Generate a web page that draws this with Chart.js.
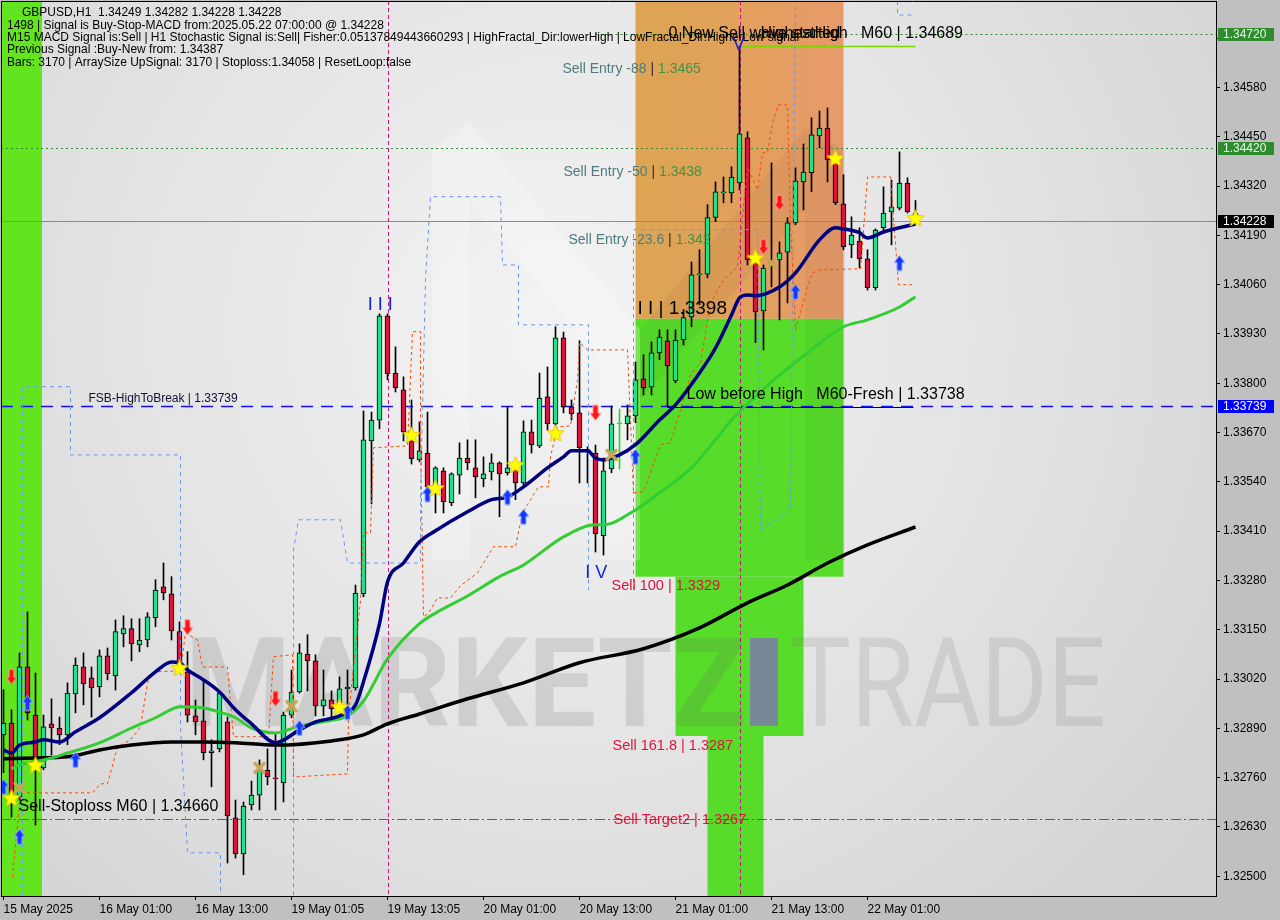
<!DOCTYPE html>
<html>
<head>
<meta charset="utf-8">
<title>GBPUSD H1</title>
<script src="https://cdn.jsdelivr.net/npm/chart.js@4.4.1/dist/chart.umd.min.js"></script>
<style>
    html, body { margin: 0; padding: 0; background: #c0c0c0; }
    #wrap { width: 1280px; height: 920px; }
    canvas { display: block; }
</style>
</head>
<body>
<div id="wrap"><canvas id="grafico" width="1280" height="920"></canvas></div>
<script>
// H1 bars, index 0 = 15 May 13:00
const opens = [
    1.32873,1.32904,1.32709,1.33052,1.32925,1.32786,1.32902,1.32891,1.32873,1.32981,
    1.33052,1.33023,1.32999,1.33081,1.33028,1.33139,1.33153,1.33110,1.33123,1.33182,
    1.33263,1.33245,1.33145,1.33039,1.32923,1.32910,1.32826,1.32836,1.32907,1.32654,
    1.32559,1.32688,1.32714,1.32780,1.32759,1.32746,1.32925,1.32986,1.33086,1.33068,
    1.32949,1.32965,1.32957,1.32994,1.32997,1.33245,1.33648,1.33703,1.33978,1.33827,
    1.33783,1.33648,1.33598,1.33616,1.33532,1.33569,1.33485,1.33558,1.33603,1.33577,
    1.33548,1.33566,1.33590,1.33564,1.33572,1.33537,1.33672,1.33635,1.33764,1.33693,
    1.33920,1.33738,1.33722,1.33625,1.33616,1.33398,1.33574,1.33693,1.33693,1.33714,
    1.33812,1.33790,1.33880,1.33912,1.33806,1.33914,1.33975,1.34086,1.34088,1.34237,
    1.34302,1.34302,1.34328,1.34447,1.34117,1.33991,1.34120,1.34125,1.34146,1.34223,
    1.34331,1.34355,1.34452,1.34473,1.34384,1.34273,1.34165,1.34175,1.34128,1.34052,
    1.34210,1.34252,1.34262,1.34328,1.34249
];
const highs = [
    1.32992,1.32939,1.33089,1.33197,1.33036,1.32925,1.32968,1.32920,1.33010,1.33076,
    1.33089,1.33052,1.33097,1.33102,1.33176,1.33187,1.33179,1.33179,1.33195,1.33282,
    1.33326,1.33290,1.33171,1.33092,1.32965,1.33018,1.32860,1.32986,1.32920,1.32701,
    1.32696,1.32751,1.32807,1.32836,1.32878,1.32933,1.33044,1.33113,1.33137,1.33084,
    1.33044,1.32989,1.33026,1.33044,1.33268,1.33727,1.33724,1.33983,1.33983,1.33896,
    1.33817,1.33756,1.33698,1.33724,1.33580,1.33577,1.33564,1.33643,1.33651,1.33651,
    1.33606,1.33614,1.33593,1.33738,1.33598,1.33701,1.33703,1.33827,1.33843,1.33949,
    1.33935,1.33756,1.33912,1.33632,1.33637,1.33603,1.33740,1.33732,1.33743,1.33856,
    1.33875,1.33909,1.33941,1.33941,1.33941,1.33994,1.34120,1.34152,1.34271,1.34331,
    1.34344,1.34371,1.34689,1.34463,1.34144,1.34112,1.34381,1.34173,1.34237,1.34368,
    1.34431,1.34500,1.34518,1.34526,1.34397,1.34350,1.34239,1.34210,1.34152,1.34207,
    1.34318,1.34336,1.34410,1.34342,1.34282
];
const lows = [
    1.32773,1.32656,1.32701,1.32912,1.32635,1.32781,1.32820,1.32847,1.32847,1.32931,
    1.32952,1.32920,1.32973,1.33018,1.32991,1.33105,1.33068,1.33092,1.33105,1.33158,
    1.33229,1.33123,1.33044,1.32907,1.32873,1.32807,1.32736,1.32828,1.32535,1.32548,
    1.32504,1.32675,1.32675,1.32741,1.32675,1.32696,1.32918,1.32983,1.32989,1.32923,
    1.32923,1.32918,1.32947,1.32947,1.32991,1.33237,1.33482,1.33680,1.33809,1.33777,
    1.33648,1.33587,1.33593,1.33488,1.33458,1.33458,1.33477,1.33508,1.33572,1.33498,
    1.33527,1.33545,1.33448,1.33558,1.33493,1.33532,1.33616,1.33630,1.33677,1.33688,
    1.33722,1.33703,1.33537,1.33537,1.33355,1.33347,1.33564,1.33574,1.33651,1.33696,
    1.33769,1.33769,1.33862,1.33738,1.33801,1.33901,1.33949,1.34007,1.34078,1.34226,
    1.34276,1.34276,1.34310,1.34112,1.33907,1.33888,1.34054,1.33967,1.34012,1.34218,
    1.34257,1.34305,1.34421,1.34331,1.34271,1.34152,1.34131,1.34104,1.34046,1.34046,
    1.34199,1.34165,1.34257,1.34249,1.34228
];
const closes = [
    1.32904,1.32693,1.33052,1.32931,1.32788,1.32894,1.32891,1.32873,1.32983,1.33057,
    1.33007,1.32997,1.33081,1.33034,1.33145,1.33153,1.33113,1.33123,1.33184,1.33255,
    1.33247,1.33147,1.33050,1.32925,1.32907,1.32826,1.32831,1.32983,1.32659,1.32559,
    1.32685,1.32714,1.32780,1.32762,1.32757,1.32925,1.32986,1.33089,1.33068,1.32949,
    1.32965,1.32941,1.32994,1.32999,1.33247,1.33651,1.33703,1.33978,1.33825,1.33788,
    1.33672,1.33601,1.33622,1.33527,1.33577,1.33488,1.33561,1.33603,1.33590,1.33553,
    1.33561,1.33590,1.33561,1.33577,1.33537,1.33672,1.33638,1.33761,1.33693,1.33920,
    1.33738,1.33719,1.33630,1.33622,1.33403,1.33569,1.33693,1.33693,1.33714,1.33809,
    1.33788,1.33880,1.33922,1.33846,1.33914,1.33973,1.34086,1.34088,1.34237,1.34305,
    1.34305,1.34344,1.34458,1.34125,1.33988,1.34104,1.34117,1.34144,1.34223,1.34334,
    1.34357,1.34455,1.34473,1.34389,1.34276,1.34160,1.34191,1.34128,1.34052,1.34204,
    1.34249,1.34265,1.34328,1.34252,1.34228
];

const timeTickIdx = [0, 12, 24, 36, 48, 60, 72, 84, 96, 108];
const timeLabels = ['15 May 2025', '16 May 01:00', '16 May 13:00', '19 May 01:05', '19 May 13:05',
                    '20 May 01:00', '20 May 13:00', '21 May 01:00', '21 May 13:00', '22 May 01:00'];
const priceTicks = [1.32500, 1.32630, 1.32760, 1.32890, 1.33020, 1.33150, 1.33280, 1.33410, 1.33540,
                    1.33670, 1.33800, 1.33930, 1.34060, 1.34190, 1.34320, 1.34450, 1.34580, 1.34710];

// moving averages [bar, price]
const maFast = [[0,1.32833],[1,1.32825],[2,1.32846],[4,1.32854],[5,1.32860],[7,1.32854],[9,1.32881],[12,1.32918],
    [16,1.32984],[19,1.33039],[21,1.33065],[22,1.33063],[23,1.33044],[25,1.33018],[27,1.32986],[29,1.32939],
    [31,1.32902],[34,1.32852],[37,1.32886],[39,1.32907],[42,1.32923],[44,1.32952],[45,1.33013],[47,1.33166],
    [48,1.33276],[50,1.33326],[52,1.33382],[54,1.33411],[58,1.33461],[61,1.33493],[63,1.33500],[65,1.33527],
    [68,1.33577],[70,1.33606],[71,1.33622],[73,1.33622],[74,1.33603],[75,1.33598],[77,1.33611],[79,1.33638],
    [82,1.33703],[84,1.33743],[87,1.33827],[89,1.33893],[91,1.33980],[92,1.34025],[93,1.34033],[94,1.34031],
    [97,1.34054],[99,1.34091],[102,1.34178],[104,1.34210],[105,1.34207],[107,1.34197],[108,1.34183],
    [110,1.34199],[114,1.34220]];
const maMid = [[1,1.32783],[2,1.32794],[4,1.32802],[6,1.32812],[8,1.32825],[12,1.32852],[16,1.32891],[19,1.32918],
    [21,1.32940],[22,1.32947],[25,1.32944],[27,1.32933],[29,1.32918],[31,1.32891],[34,1.32878],[37,1.32896],
    [41,1.32911],[43,1.32923],[45,1.32962],[48,1.33073],[52,1.33166],[54,1.33194],[58,1.33239],[62,1.33290],
    [65,1.33321],[70,1.33395],[74,1.33427],[75,1.33427],[79,1.33466],[82,1.33511],[86,1.33577],[89,1.33651],
    [91,1.33703],[96,1.33804],[100,1.33872],[105,1.33949],[108,1.33967],[112,1.34001],[114,1.34028]];
const maSlow = [[0,1.32810],[4,1.32812],[8,1.32815],[12,1.32833],[16,1.32846],[21,1.32854],[25,1.32854],[29,1.32852],
    [34,1.32846],[41,1.32857],[45,1.32873],[48,1.32902],[52,1.32928],[58,1.32968],[65,1.33010],[72,1.33063],
    [80,1.33100],[87,1.33155],[93,1.33221],[98,1.33268],[103,1.33326],[108,1.33374],[114,1.33421]];

// trailing step lines [bar, price]
const trailRed = [[1.125,1.32498],[1.5,1.32583],[2.125,1.32715],[2.375,1.32720],[11.125,1.32720],[12.125,1.32744],
    [13,1.32744],[14.25,1.32841],[15.875,1.32860],[17.125,1.32894],[18,1.33010],[18.75,1.33039],[22.125,1.33042],
    [22.75,1.33142],[24.25,1.33123],[24.875,1.33052],[28,1.33052],[28.75,1.32868],[33.125,1.32868],[33.75,1.33079],
    [36.125,1.33084],[36.25,1.32762],[43,1.32770],[43.125,1.32923],[44.625,1.33226],[45,1.33406],[45.875,1.33406],
    [46.25,1.33630],[50.5,1.33635],[51.125,1.33936],[52.125,1.33936],[52.125,1.33648],[52.5,1.33184],[53.125,1.33194],
    [54.25,1.33234],[55.875,1.33234],[57.125,1.33266],[59.25,1.33300],[61.25,1.33369],[64,1.33369],[64.875,1.33458],
    [66.875,1.33527],[68.125,1.33527],[68.375,1.33606],[69.25,1.33685],[70.875,1.33688],[71.75,1.33809],[72,1.33907],
    [73,1.33888],[78,1.33888],[78.75,1.33511],[80,1.33514],[82.125,1.33638],[83.375,1.33643],[84.625,1.33730],
    [85.875,1.33822],[87.125,1.33854],[88.375,1.34012],[90,1.34073],[91.75,1.34107],[93,1.34371],[94.25,1.34310],
    [94.875,1.34408],[95.5,1.34408],[96.125,1.34487],[96.875,1.34534],[98,1.34534],[98.375,1.34223],[99,1.33941],
    [99.375,1.33967],[100.5,1.34054],[101.125,1.34091],[102.125,1.34099],[107.125,1.34102],[108,1.34344],
    [110.875,1.34344],[111.875,1.34060],[113.75,1.34060]];
const trailBlue = [
    [[2.375,1.3245],[2.375,1.33791],[8.375,1.33791],[8.375,1.33611],[22.125,1.33611],[22.125,1.32894],[23,1.32562],
     [27.125,1.32562],[27.125,1.3245]],
    [[36.25,1.3245],[36.25,1.33361],[36.875,1.33440],[42.125,1.33440],[43,1.33326],[52.125,1.33326],[52.125,1.33503],
     [52.75,1.34073],[53.375,1.34292],[62.125,1.34292],[62.375,1.34112],[64.375,1.34112],[64.375,1.33954],
     [73.125,1.33954],[73.125,1.33255]],
    [[78.75,1.33255],[78.75,1.34205],[94.25,1.34205],[94.625,1.33413],[98.375,1.33466],[99,1.34808]],
    [[111.75,1.34808],[111.75,1.34771],[114,1.34771]]
];

// signal markers [bar, price]
const starMarks = [[1,1.32707],[4,1.32794],[22,1.33050],[42,1.32947],[51,1.33664],[54,1.33524],[64,1.33585],
    [69,1.33669],[94,1.34131],[104,1.34394],[114,1.34236]];
const crossMarks = [[2,1.32733],[32,1.32786],[36,1.32949],[76,1.33611],[96,1.34117]];
const buyArrows = [[0,1.32736],[2,1.32604],[3,1.32957],[9,1.32807],[37,1.32891],[43,1.32933],[53,1.33508],
    [63,1.33500],[65,1.33448],[79,1.33606],[99,1.34041],[112,1.34117]];
const sellArrows = [[1,1.33026],[23,1.33157],[34,1.32968],[74,1.33722],[95,1.34160],[97,1.34276]];

// zones: first bar, last bar, upper price, lower price
const zoneBand = [-0.3125, 4.8125];
const zoneSell = [79, 105, 1.34808, 1.3397];
const zoneTargets = [[79, 105, 1.3397, 1.3329], [84, 100, 1.3329, 1.3287], [88, 95, 1.3287, 1.32448]];

// price levels
const lvlHigh = 1.34720, lvlEntry50 = 1.34420, lvlBid = 1.34228, lvlFsb = 1.33739, lvlStop = 1.32650;
const lvlHighestHigh = 1.34689, lvlLowBeforeHigh = 1.33738;
const markerBars = [48, 92];

const notes = [
    { k: 'entry', i: 69.875, p: 1.34629, a: 'Sell Entry -88 ', b: '| ', c: '1.3465' },
    { k: 'entry', i: 70,     p: 1.34357, a: 'Sell Entry -50 ', b: '| ', c: '1.3438' },
    { k: 'entry', i: 70.625, p: 1.34178, a: 'Sell Entry -23.6 ', b: '| ', c: '1.342' },
    { k: 'wave',  i: 79.25,  p: 1.33996, a: 'I I | 1.3398' },
    { k: 'big',   i: 85.375, p: 1.33769, a: 'Low before High   M60-Fresh | 1.33738' },
    { k: 'small', i: 10.625, p: 1.33759, a: 'FSB-HighToBreak | 1.33739' },
    { k: 'big',   i: 83.125, p: 1.34721, a: '0 New Sell wave started' },
    { k: 'big',   i: 94.625, p: 1.34721, a: 'HighestHigh   M60 | 1.34689' },
    { k: 'big',   i: 1.875,  p: 1.32683, a: 'Sell-Stoploss M60 | 1.34660' },
    { k: 'target', i: 76,     p: 1.33266, a: 'Sell 100 | 1.3329' },
    { k: 'target', i: 76.125, p: 1.32844, a: 'Sell 161.8 | 1.3287' },
    { k: 'target', i: 76.25,  p: 1.32649, a: 'Sell Target2 | 1.3267' },
    { k: 'count', i: 47.1,   p: 1.34007, a: 'I I I' },
    { k: 'count', i: 74.1,   p: 1.33300, a: 'I V' },
    { k: 'count', i: 91.9,   p: 1.34692, a: 'V' }
];

const header = [
    'GBPUSD,H1  1.34249 1.34282 1.34228 1.34228',
    '1498 | Signal is Buy-Stop-MACD from:2025.05.22 07:00:00 @ 1.34228',
    'M15 MACD Signal is:Sell | H1 Stochastic Signal is:Sell| Fisher:0.05137849443660293 | HighFractal_Dir:lowerHigh | LowFractal_Dir:HigherLow signal',
    'Previous Signal :Buy-New from: 1.34387',
    'Bars: 3170 | ArraySize UpSignal: 3170 | Stoploss:1.34058 | ResetLoop:false'
];

const X_MIN = -0.3125, X_MAX = 151.5625, Y_MIN = 1.32448, Y_MAX = 1.34808;
const FONTE = '"Liberation Sans", Arial, sans-serif';
const VERDE = '#1ee38a', VERMELHO = '#dc143c';

function toXY(arr) { return arr.map(([i, p]) => ({ x: i, y: p })); }

function desenharEstrela(size) {
    const c = document.createElement('canvas');
    c.width = c.height = size;
    const g = c.getContext('2d');
    const cx = size / 2, cy = size / 2 + 0.8, r = size / 2 - 1, ri = r * 0.45;
    g.beginPath();
    for (let k = 0; k < 10; k++) {
        const a = -Math.PI / 2 + k * Math.PI / 5;
        const rr = k % 2 ? ri : r;
        g.lineTo(cx + rr * Math.cos(a), cy + rr * Math.sin(a));
    }
    g.closePath();
    g.fillStyle = '#ffff00';
    g.fill();
    g.strokeStyle = '#e8c800';
    g.lineWidth = 1;
    g.stroke();
    return c;
}

function desenharSeta(up, cor, borda) {
    const w = 13, h = 17;
    const c = document.createElement('canvas');
    c.width = w; c.height = h;
    const g = c.getContext('2d');
    g.save();
    if (!up) { g.translate(0, h); g.scale(1, -1); }
    g.beginPath();
    g.moveTo(w / 2, 1);
    g.lineTo(w - 1, 8);
    g.lineTo(w - 4, 8);
    g.lineTo(w - 4, h - 1);
    g.lineTo(4, h - 1);
    g.lineTo(4, 8);
    g.lineTo(1, 8);
    g.closePath();
    g.fillStyle = cor;
    g.fill();
    g.strokeStyle = borda;
    g.lineWidth = 1;
    g.stroke();
    g.restore();
    return c;
}

function desenharX() {
    const c = document.createElement('canvas');
    c.width = c.height = 14;
    const g = c.getContext('2d');
    g.strokeStyle = '#c9a556';
    g.lineWidth = 3.5;
    g.lineCap = 'round';
    g.beginPath();
    g.moveTo(2.5, 2.5); g.lineTo(11.5, 11.5);
    g.moveTo(11.5, 2.5); g.lineTo(2.5, 11.5);
    g.stroke();
    return c;
}

const imgEstrela = desenharEstrela(20);
const imgCompra = desenharSeta(true, '#1538ff', '#8fb0ff');
const imgVenda = desenharSeta(false, '#ff1414', '#ff9a9a');
const imgX = desenharX();

const corpoCores = opens.map((o, i) => closes[i] > o ? VERDE : closes[i] < o ? VERMELHO : '#32cd32');
const pavioCores = opens.map((o, i) => closes[i] === o ? '#32cd32' : '#000000');

function linha(data, cor, largura, extra) {
    return Object.assign({
        type: 'line', data: toXY(data), borderColor: cor, borderWidth: largura,
        pointRadius: 0, tension: 0, fill: false
    }, extra || {});
}

function marcador(data, img, order) {
    return {
        type: 'line', data: toXY(data), showLine: false, pointStyle: img,
        pointRadius: 6, order: order
    };
}

const datasets = [
    {
        type: 'bar', data: opens.map((o, i) => ({ x: i, y: [lows[i], highs[i]] })),
        backgroundColor: pavioCores, borderWidth: 0, barThickness: 1, grouped: false,
        minBarLength: 1, order: 20
    },
    {
        type: 'bar', data: opens.map((o, i) => ({ x: i, y: [o, closes[i]] })),
        backgroundColor: corpoCores, borderColor: pavioCores.map(c => c === '#32cd32' ? c : '#000'),
        borderWidth: 1, borderSkipped: false, barThickness: 5, grouped: false, minBarLength: 1, order: 19
    },
    linha(trailRed, '#ff4500', 1, { borderDash: [3, 3], order: 15 }),
    ...trailBlue.map(seg => linha(seg, '#6a96f0', 1, { borderDash: [4, 4], order: 15 })),
    linha(maSlow, '#000000', 3.5, { tension: 0.4, cubicInterpolationMode: 'monotone', order: 6 }),
    linha(maMid, '#32cd32', 3, { tension: 0.4, cubicInterpolationMode: 'monotone', order: 5 }),
    linha(maFast, '#000080', 3.5, { tension: 0.4, cubicInterpolationMode: 'monotone', order: 4 }),
    marcador(crossMarks, imgX, 3),
    marcador(buyArrows, imgCompra, 2),
    marcador(sellArrows, imgVenda, 2),
    marcador(starMarks, imgEstrela, 1)
];

function ajustarTexto(ctx, texto, x0, x1, base) {
    const w = ctx.measureText(texto).width;
    ctx.save();
    ctx.translate(x0, base);
    ctx.scale((x1 - x0) / w, 1);
    ctx.fillText(texto, 0, 0);
    ctx.restore();
}

function semPadding(s) {
    s.paddingTop = 0; s.paddingBottom = 0; s.paddingLeft = 0; s.paddingRight = 0;
}

const decor = {
    id: 'decor',
    beforeDraw(chart) {
        const { ctx, chartArea: a, scales: { x, y } } = chart;
        ctx.save();
        ctx.fillStyle = '#c0c0c0';
        ctx.fillRect(0, 0, chart.width, chart.height);
        const grad = ctx.createRadialGradient(560, 330, 40, 560, 330, 820);
        grad.addColorStop(0, '#f2f2f2');
        grad.addColorStop(0.55, '#e2e2e2');
        grad.addColorStop(1, '#d3d3d3');
        ctx.fillStyle = grad;
        ctx.fillRect(a.left, a.top, a.right - a.left, a.bottom - a.top);

        ctx.beginPath();
        ctx.rect(a.left, a.top, a.right - a.left, a.bottom - a.top);
        ctx.clip();

        // left band
        ctx.fillStyle = '#62e41e';
        ctx.fillRect(x.getPixelForValue(zoneBand[0]), a.top,
            x.getPixelForValue(zoneBand[1]) - x.getPixelForValue(zoneBand[0]), a.bottom - a.top);

        // sell zone
        const sx0 = x.getPixelForValue(zoneSell[0]), sx1 = x.getPixelForValue(zoneSell[1]);
        const sy0 = y.getPixelForValue(zoneSell[2]), sy1 = y.getPixelForValue(zoneSell[3]);
        const og = ctx.createLinearGradient(sx0, 0, sx1, 0);
        og.addColorStop(0, '#dca552');
        og.addColorStop(0.5, '#e2a05c');
        og.addColorStop(1, '#e79a6a');
        ctx.fillStyle = og;
        ctx.fillRect(sx0, sy0, sx1 - sx0, sy1 - sy0);

        ctx.fillStyle = '#58dc2a';
        zoneTargets.forEach(([i0, i1, p0, p1]) => {
            const px0 = x.getPixelForValue(i0), px1 = x.getPixelForValue(i1);
            const py0 = y.getPixelForValue(p0), py1 = y.getPixelForValue(p1);
            ctx.fillRect(px0, py0, px1 - px0, py1 - py0);
        });

        // watermark
        ctx.fillStyle = 'rgba(255,255,255,0.22)';
        ctx.beginPath();
        ctx.moveTo(432, 150); ctx.lineTo(470, 122); ctx.lineTo(640, 330); ctx.lineTo(640, 560);
        ctx.lineTo(600, 560); ctx.lineTo(600, 360); ctx.lineTo(470, 200); ctx.lineTo(470, 560);
        ctx.lineTo(432, 560); ctx.closePath();
        ctx.fill();
        ctx.fillStyle = 'rgba(0,0,0,0.04)';
        ctx.beginPath();
        ctx.moveTo(640, 330); ctx.lineTo(805, 128); ctx.lineTo(845, 150); ctx.lineTo(845, 560);
        ctx.lineTo(805, 560); ctx.lineTo(805, 210); ctx.lineTo(640, 400); ctx.closePath();
        ctx.fill();

        ctx.fillStyle = 'rgba(95,95,95,0.17)';
        ctx.font = 'bold 124px Roboto';
        ajustarTexto(ctx, 'MARKETZ', 185, 746, 726);
        ctx.fillStyle = '#778899';
        ctx.fillRect(750, 638, 28, 88);
        ctx.fillStyle = 'rgba(110,110,110,0.16)';
        ctx.font = '124px Roboto';
        ajustarTexto(ctx, 'TRADE', 790, 1106, 726);
        ctx.restore();
    },
    beforeDatasetsDraw(chart) {
        const { ctx, chartArea: a, scales: { x, y } } = chart;
        ctx.save();
        ctx.beginPath();
        ctx.rect(a.left, a.top, a.right - a.left, a.bottom - a.top);
        ctx.clip();
        const hline = (p, x0, x1, cor, w, dash) => {
            const py = Math.round(y.getPixelForValue(p)) + 0.5;
            ctx.strokeStyle = cor; ctx.lineWidth = w; ctx.setLineDash(dash);
            ctx.beginPath(); ctx.moveTo(x0, py); ctx.lineTo(x1, py); ctx.stroke();
        };
        hline(lvlEntry50, a.left, a.right, '#2e8b2e', 1, [2, 3]);
        hline(lvlHigh, x.getPixelForValue(74), a.right, '#2e8b2e', 1, [2, 3]);
        hline(lvlBid, a.left, a.right, '#8a8a8a', 1, []);
        hline(lvlStop, a.left, a.right, '#ff1e1e', 1, [10, 3, 2, 3]);
        hline(lvlFsb, a.left, a.right, '#1010ff', 1.5, [12, 8]);
        hline(lvlHighestHigh, x.getPixelForValue(92.4), x.getPixelForValue(114), '#7ad400', 1.5, []);
        hline(lvlLowBeforeHigh, x.getPixelForValue(83), x.getPixelForValue(113.75), '#000000', 1, []);
        ctx.strokeStyle = '#c71585'; ctx.lineWidth = 1; ctx.setLineDash([4, 3]);
        markerBars.forEach(i => {
            const px = Math.round(x.getPixelForValue(i)) + 0.5;
            ctx.beginPath(); ctx.moveTo(px, a.top); ctx.lineTo(px, a.bottom); ctx.stroke();
        });
        ctx.restore();
    },
    afterDatasetsDraw(chart) {
        const { ctx, chartArea: a, scales: { x, y } } = chart;
        ctx.save();
        ctx.textBaseline = 'middle';
        ctx.textAlign = 'left';
        notes.forEach(n => {
            const px = x.getPixelForValue(n.i), py = y.getPixelForValue(n.p);
            if (n.k === 'entry') {
                ctx.font = '14px ' + FONTE;
                ctx.fillStyle = '#4e7b7e';
                ctx.fillText(n.a, px, py);
                let off = ctx.measureText(n.a).width;
                ctx.fillStyle = '#3a1f4a';
                ctx.fillText(n.b, px + off, py);
                off += ctx.measureText(n.b).width;
                ctx.fillStyle = '#3f9440';
                ctx.fillText(n.c, px + off, py);
                return;
            }
            const estilo = {
                wave: ['19px', '#000'], big: ['16px', '#000'], small: ['12px', '#101030'],
                target: ['14.5px', '#dc143c'], count: ['18px', '#1020e0']
            }[n.k];
            ctx.font = estilo[0] + ' ' + FONTE;
            ctx.fillStyle = estilo[1];
            if (n.k === 'count') ctx.textAlign = 'center';
            ctx.fillText(n.a, px, py);
            ctx.textAlign = 'left';
        });

        // frame
        ctx.strokeStyle = '#000';
        ctx.lineWidth = 1;
        ctx.beginPath();
        ctx.moveTo(a.left + 0.5, a.bottom); ctx.lineTo(a.left + 0.5, a.top + 0.5); ctx.lineTo(a.right, a.top + 0.5);
        ctx.stroke();

        // header
        ctx.font = '12px ' + FONTE;
        ctx.fillStyle = '#000';
        header.forEach((t, k) => ctx.fillText(t, k === 0 ? 22 : 7, 13 + k * 12.3));
        ctx.restore();
    },
    afterDraw(chart) {
        const { ctx, scales: { y } } = chart;
        ctx.save();
        ctx.font = '12px ' + FONTE;
        ctx.textBaseline = 'middle';
        [[lvlHigh, '#2e8b2e', '#e8ffe8'], [lvlEntry50, '#2e8b2e', '#e8ffe8'],
         [lvlBid, '#000000', '#ffffff'], [lvlFsb, '#0000ff', '#ffffff']].forEach(([p, bg, fg]) => {
            const py = Math.round(y.getPixelForValue(p));
            ctx.fillStyle = bg;
            ctx.fillRect(1218, py - 6, 56, 13);
            ctx.fillStyle = fg;
            ctx.fillText(p.toFixed(5), 1223, py + 0.5);
        });
        ctx.restore();
    }
};

new Chart(document.getElementById('grafico'), {
    type: 'bar',
    data: { datasets },
    options: {
        responsive: false,
        animation: false,
        devicePixelRatio: 1,
        layout: { autoPadding: false, padding: { left: 1, top: 1, right: 0, bottom: 0 } },
        plugins: { legend: { display: false }, tooltip: { enabled: false } },
        scales: {
            x: {
                type: 'linear', min: X_MIN, max: X_MAX, offset: false,
                grid: { drawOnChartArea: false, drawTicks: true, tickLength: 4, color: '#000', offset: false },
                border: { display: true, color: '#000' },
                ticks: {
                    autoSkip: false, maxRotation: 0, align: 'start', padding: 2, color: '#000',
                    font: { family: FONTE, size: 12 },
                    callback: v => timeLabels[timeTickIdx.indexOf(v)] || ''
                },
                afterBuildTicks: s => { s.ticks = timeTickIdx.map(v => ({ value: v })); },
                afterFit: s => { s.height = 24; semPadding(s); }
            },
            y: {
                type: 'linear', position: 'right', min: Y_MIN, max: Y_MAX,
                grid: { drawOnChartArea: false, drawTicks: true, tickLength: 4, color: '#000' },
                border: { display: true, color: '#000' },
                ticks: {
                    autoSkip: false, padding: 3, color: '#000',
                    font: { family: FONTE, size: 12 },
                    callback: v => v.toFixed(5)
                },
                afterBuildTicks: s => { s.ticks = priceTicks.map(v => ({ value: v })); },
                afterFit: s => { s.width = 64; semPadding(s); }
            }
        }
    },
    plugins: [decor]
});
</script>
</body>
</html>
